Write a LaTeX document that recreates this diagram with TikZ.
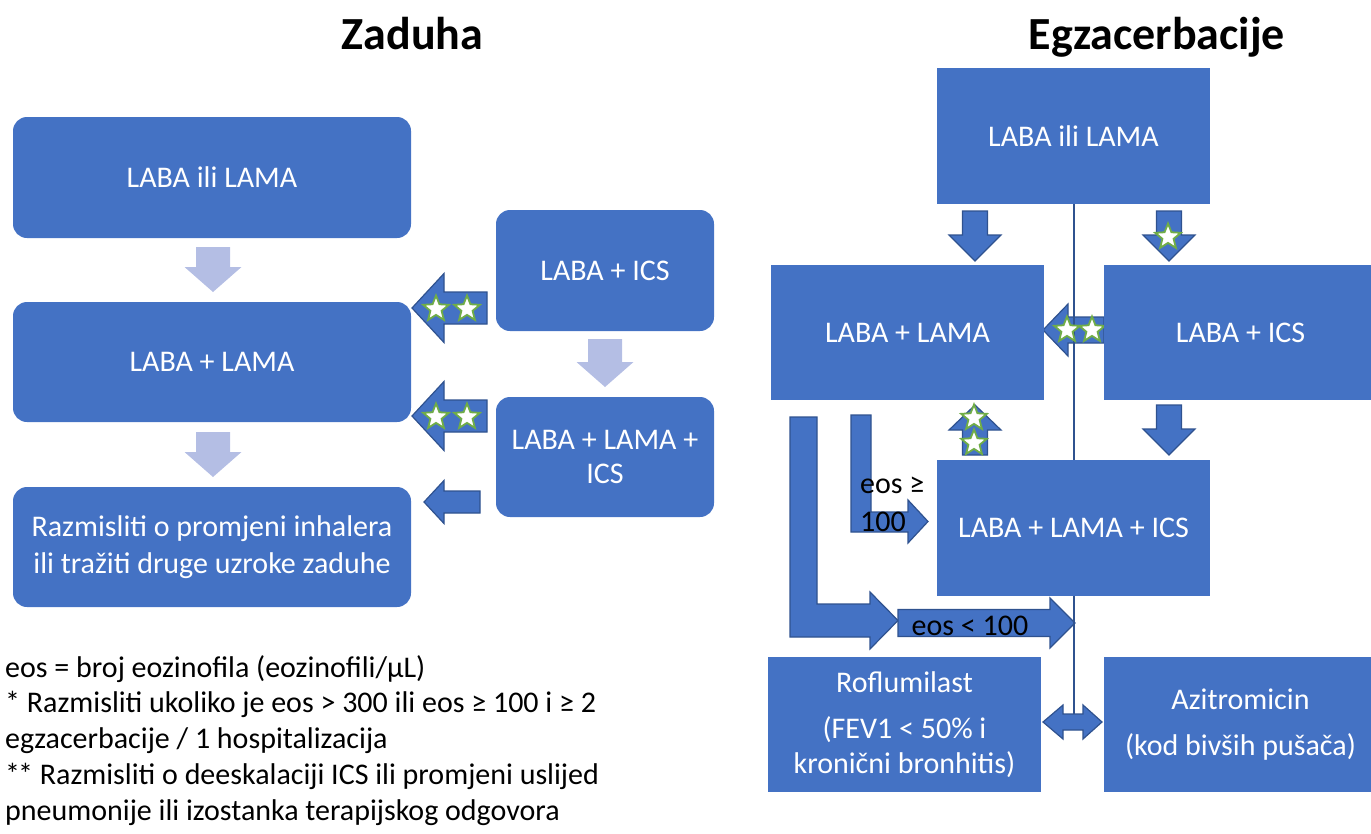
\documentclass[tikz,border=0pt]{standalone}
\usepackage{fontspec}
\setmainfont{Carlito}
\usetikzlibrary{calc,shapes.geometric}
\definecolor{boxblue}{HTML}{4472C4}
\definecolor{edgeblue}{HTML}{2F528F}
\definecolor{lightarr}{HTML}{B4BEE4}
\definecolor{stargreen}{HTML}{70AD47}
\newcommand\fsnorm{\fontsize{30}{36}\selectfont}
% #1 extra style, #2 tail, #3 tip, #4 shaft width, #5 head width, #6 head length
\newcommand\blockarrow[6][]{%
  \draw[blockarr,#1] let \p1=(#2), \p2=(#3),
     \n1={atan2(\y2-\y1,\x2-\x1)}, \n2={veclen(\x2-\x1,\y2-\y1)} in
     [shift={(\p1)}, rotate=\n1]
     (0,{#4/2}) -- ({\n2-#6},{#4/2}) -- ({\n2-#6},{#5/2}) -- (\n2,0)
     -- ({\n2-#6},{-#5/2}) -- ({\n2-#6},{-#4/2}) -- (0,{-#4/2}) -- cycle;
}
\begin{document}
\begin{tikzpicture}[x=1pt,y=-1pt,
  box/.style={fill=boxblue, draw=none, text=white, font=\fsnorm, align=center, inner sep=0pt},
  lbox/.style={box, rounded corners=14pt},
  blockarr/.style={fill=boxblue, draw=edgeblue, line width=1.2pt, line join=miter},
  lightblk/.style={fill=lightarr, draw=none},
  starn/.style={star, star points=5, star point ratio=2.3, minimum size=27pt, inner sep=0pt,
                fill=white, draw=stargreen, line width=1.8pt},
  lbl/.style={font=\fsnorm, text=black, inner sep=0pt},
  title/.style={font=\fontsize{46}{55}\selectfont\bfseries, text=black, inner sep=0pt}]
\useasboundingbox (0,0) rectangle (1371,833);

% titles
\node[title, anchor=base] (t1) at (412.5,49) {Zaduha};
\node[title, anchor=base] (t2) at (1157,49) {Egzacerbacije};

% ---------------- left (Zaduha) ----------------
\node[lbox, minimum width=398pt, minimum height=121pt] (z1) at (212,177.5) {LABA ili LAMA};
\node[lbox, minimum width=398pt, minimum height=120pt] (z2) at (212,362) {LABA + LAMA};
\node[lbox, minimum width=398pt, minimum height=120pt, font=\fontsize{30}{37}\selectfont] (z3) at (212,547)
  {Razmisliti o promjeni inhalera\\ili tražiti druge uzroke zaduhe};
\node[lbox, minimum width=218pt, minimum height=121pt] (z4) at (605,270.5) {LABA + ICS};
\node[lbox, minimum width=218pt, minimum height=120pt, font=\fontsize{30}{34}\selectfont] (z5) at (605,457)
  {LABA + LAMA +\\ICS};

% light down arrows
\blockarrow[lightblk]{213,247}{213,292}{34}{57}{25}
\blockarrow[lightblk]{213,432}{213,477}{34}{57}{25}
\blockarrow[lightblk]{605,339}{605,387}{34}{57}{25}

% left arrows with stars
\blockarrow{487,308}{412,308}{32}{69}{32}
\node[starn] (sa1) at (436,309) {};
\node[starn] (sa2) at (467,309) {};
\blockarrow{487,416}{412,416}{32}{69}{32}
\node[starn] (sb1) at (436,417) {};
\node[starn] (sb2) at (467,417) {};
\blockarrow{480,502}{424,502}{22}{43}{20}

% footnotes
\node[lbl, anchor=base west] (f1) at (5,677) {eos = broj eozinofila (eozinofili/µL)};
\node[lbl, anchor=base west] (f2) at (5,712.75) {* Razmisliti ukoliko je eos > 300 ili eos ≥ 100 i ≥ 2};
\node[lbl, anchor=base west] (f3) at (5,748.5) {egzacerbacije / 1 hospitalizacija};
\node[lbl, anchor=base west] (f4) at (5,784.25) {*\kern-2pt* Razmisliti o deeskalaciji ICS ili promjeni uslijed};
\node[lbl, anchor=base west] (f5) at (5,820) {pneumonije ili izostanka terapijskog odgovora};

% ---------------- right (Egzacerbacije) ----------------
% arrows
\blockarrow{975,211}{975,261}{25}{52}{26}
\blockarrow{1169,211}{1169,261}{25}{52}{26}
\blockarrow{1169,405}{1169,455}{25}{52}{26}
\blockarrow{975,455}{975,405}{25}{52}{25}
\blockarrow{1104,330}{1043,330}{26}{52}{25}

% bent arrows
\draw[blockarr] (851,415) -- (871,415) -- (871,512) -- (908,512) -- (908,500) -- (928,521.5)
  -- (908,543) -- (908,532) -- (851,532) -- cycle;
\draw[blockarr] (790,417) -- (817,417) -- (817,604) -- (870,604) -- (870,592) -- (898,620.5)
  -- (870,649) -- (870,637) -- (790,637) -- cycle;
\blockarrow{898,623}{1075,623}{27}{50}{25}
% double arrow
\draw[blockarr] (1043,722) -- (1063,705) -- (1063,714) -- (1083,714) -- (1083,705) -- (1102,722)
  -- (1083,739) -- (1083,730) -- (1063,730) -- (1063,739) -- cycle;

% vertical divider line
\coordinate (vtop) at (1074,204);
\coordinate (vbot) at (1074,714);
\draw[edgeblue, line width=1.8pt] (vtop) -- (vbot);

% stars on right arrows
\node[starn] (sc1) at (1168,237) {};
\node[starn] (sd1) at (1067,330) {};
\node[starn] (sd2) at (1092,330) {};
\node[starn] (se1) at (974,418) {};
\node[starn] (se2) at (974,443) {};

% boxes
\node[box, minimum width=273pt, minimum height=136pt] (e1) at (1073.5,136) {LABA ili LAMA};
\node[box, minimum width=273pt, minimum height=135pt] (e2) at (907.5,332.5) {LABA + LAMA};
\node[box, minimum width=273pt, minimum height=135pt] (e3) at (1240.5,332.5) {LABA + ICS};
\node[box, minimum width=273pt, minimum height=136pt] (e4) at (1073.5,528) {LABA + LAMA + ICS};
\node[box, minimum width=273pt, minimum height=135pt, font=\fontsize{30}{35}\selectfont] (e5) at (904.5,724.5)
  {Roflumilast\\[11pt](FEV1 < 50\% i\\kronični bronhitis)};
\node[box, minimum width=273pt, minimum height=135pt, font=\fontsize{30}{35}\selectfont] (e6) at (1240.5,724.5)
  {Azitromicin\\[11pt](kod bivših pušača)};

% arrow labels
\node[lbl, anchor=base west] (g1) at (860,493) {eos ≥};
\node[lbl, anchor=base west] (g2) at (860,531) {100};
\node[lbl, anchor=base] (g3) at (970,635) {eos < 100};
\end{tikzpicture}
\end{document}
